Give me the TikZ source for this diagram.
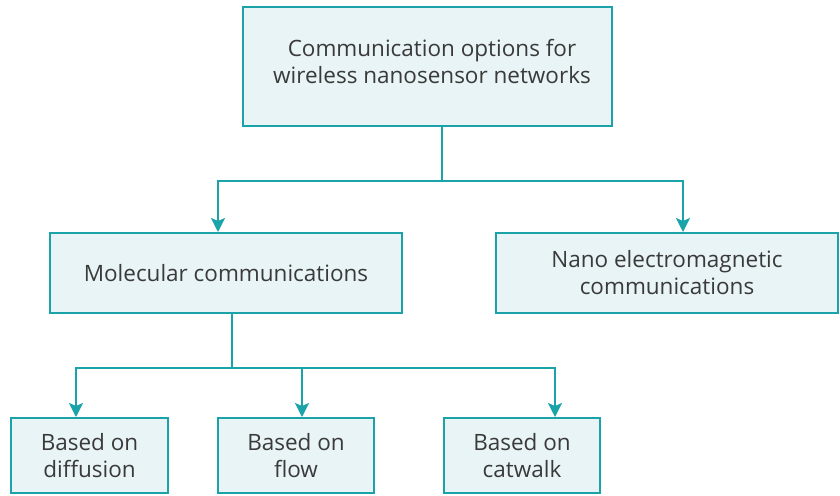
\documentclass[tikz,border=0pt]{standalone}
\usepackage{fontspec}
\setmainfont{Open Sans}
\usetikzlibrary{arrows.meta,calc}
\definecolor{tealline}{HTML}{1AA3A8}
\definecolor{boxfill}{HTML}{E8F4F6}
\definecolor{textgray}{HTML}{3A3A3A}
\tikzset{
  boxtext/.style={align=center, text=textgray,
    font=\fontsize{22.5}{27}\selectfont, inner sep=0pt},
  box/.style={boxtext, draw=tealline, fill=boxfill, line width=2pt},
  link/.style={draw=tealline, line width=2pt},
  tip/.style={-{Stealth[length=14pt,width=14pt,inset=3pt]}}
}
\begin{document}
\begin{tikzpicture}[x=1pt,y=-1pt]
\useasboundingbox (0,0) rectangle (840,495);

% boxes
\node[box, minimum width=369pt, minimum height=119pt,
  label={[boxtext, xshift=4.5pt, yshift=5pt]center:{Communication options for\\wireless nanosensor networks}}]
  (top) at (427.5,66.5) {};
\node[box, minimum width=352pt, minimum height=80pt] (mol) at (226,273)
  {Molecular communications};
\node[box, minimum width=342pt, minimum height=80pt] (nano) at (667,273)
  {Nano electromagnetic\\communications};
\node[box, minimum width=157pt, minimum height=75pt] (diff) at (89.5,455.5)
  {Based on\\diffusion};
\node[box, minimum width=156pt, minimum height=75pt] (flow) at (296,455.5)
  {Based on\\flow};
\node[box, minimum width=156pt, minimum height=75pt] (walk) at (522,455.5)
  {Based on\\catwalk};

% junctions
\coordinate (topjoin) at (442,181);
\coordinate (moljoin) at (232,368);

% connectors
\draw[link] (top.south -| topjoin) -- (topjoin);
\draw[link,tip] (topjoin) -| ([xshift=-8pt]mol.north);
\draw[link,tip] (topjoin) -| ([xshift=16pt]nano.north);
\draw[link] (mol.south -| moljoin) -- (moljoin);
\draw[link,tip] (moljoin) -| ([xshift=-13.5pt]diff.north);
\draw[link,tip] (moljoin) -| ([xshift=6pt]flow.north);
\draw[link,tip] (moljoin) -| ([xshift=33pt]walk.north);
\end{tikzpicture}
\end{document}
